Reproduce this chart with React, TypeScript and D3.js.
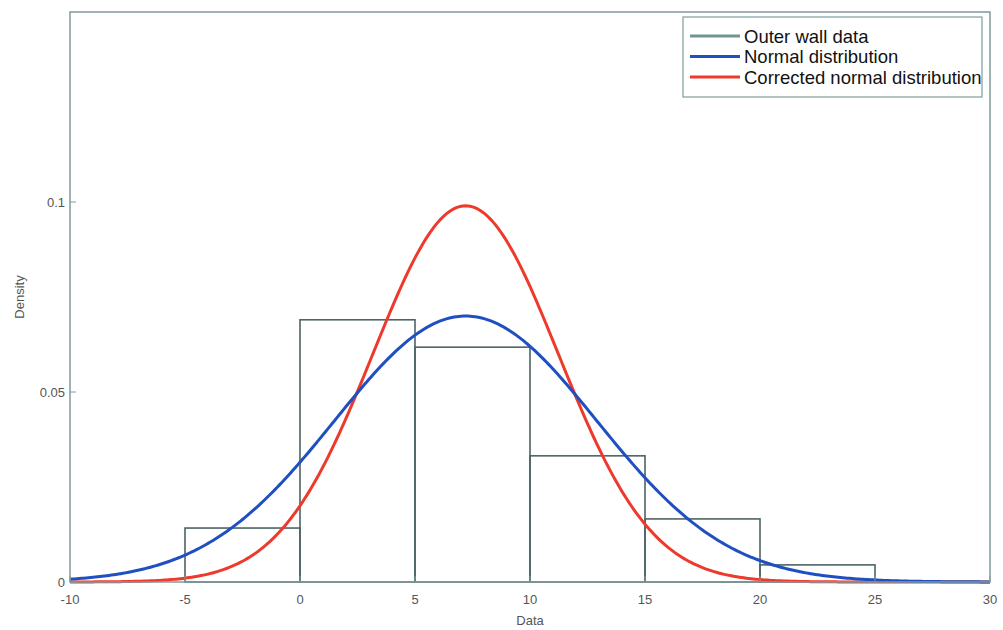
import React from "react";
import * as d3 from "d3";

const binEdges = [-5, 0, 5, 10, 15, 20, 25];
const binDensity = [0.0142, 0.069, 0.0618, 0.0332, 0.0166, 0.0045];
const xTicks = [-10, -5, 0, 5, 10, 15, 20, 25, 30];
const yTicks = [0, 0.05, 0.1];
const yTickLabels = ["0", "0.05", "0.1"];
const seriesNames = ["Outer wall data", "Normal distribution", "Corrected normal distribution"];
const seriesColors = ["#6f9595", "#1f4fc0", "#ee3a2c"];
const fitMean = [7.2, 7.2];
const fitSigma = [5.7, 4.03];

const W = 1003, H = 630;
const M = { left: 70, right: 13, top: 12, bottom: 48 };

export default function App() {
  const x = d3.scaleLinear().domain([-10, 30]).range([M.left, W - M.right]);
  const y = d3.scaleLinear().domain([0, 0.15]).range([H - M.bottom, M.top]);
  const pdf = (m: number, s: number) => (v: number) =>
    Math.exp(-((v - m) ** 2) / (2 * s * s)) / (s * Math.sqrt(2 * Math.PI));
  const xs = d3.range(-10, 30.001, 0.1);
  const line = d3.line<number[]>().x((d) => x(d[0])).y((d) => y(d[1]));
  const curves = [0, 1].map((i) => line(xs.map((v) => [v, pdf(fitMean[i], fitSigma[i])(v)])) as string);
  const axisColor = "#7f9c9c";
  const textColor = "#555";
  return (
    <svg width={W} height={H} style={{ position: "absolute", left: 0, top: 0, background: "#fff" }}
      fontFamily="Liberation Sans, Arial, sans-serif">
      {binDensity.map((d, i) => (
        <rect key={i} x={x(binEdges[i])} y={y(d)} width={x(binEdges[i + 1]) - x(binEdges[i])}
          height={y(0) - y(d)} fill="none" stroke="#4d6464" strokeWidth={1.6} />
      ))}
      <path d={curves[1]} fill="none" stroke={seriesColors[2]} strokeWidth={3} />
      <path d={curves[0]} fill="none" stroke={seriesColors[1]} strokeWidth={3} />
      <rect x={M.left} y={M.top} width={W - M.right - M.left} height={H - M.bottom - M.top}
        fill="none" stroke={axisColor} strokeWidth={1.5} />
      {xTicks.map((t) => (
        <g key={t}>
          <line x1={x(t)} x2={x(t)} y1={y(0)} y2={y(0) - 6} stroke={axisColor} />
          <text x={x(t)} y={y(0) + 22} textAnchor="middle" fontSize={13} fill={textColor}>{t}</text>
        </g>
      ))}
      {yTicks.map((t, i) => (
        <g key={t}>
          <line x1={M.left} x2={M.left + 6} y1={y(t)} y2={y(t)} stroke={axisColor} />
          <text x={M.left - 5} y={y(t) + 5} textAnchor="end" fontSize={13} fill={textColor}>{yTickLabels[i]}</text>
        </g>
      ))}
      <text x={x(10)} y={H - 5} textAnchor="middle" fontSize={13} fill={textColor}>Data</text>
      <text transform={`translate(24, ${y(0.075)}) rotate(-90)`} textAnchor="middle" fontSize={13} fill={textColor}>Density</text>
      <rect x={683} y={17} width={299} height={80} fill="#fff" stroke={axisColor} strokeWidth={1.2} />
      {seriesNames.map((n, i) => (
        <g key={n}>
          <line x1={690} x2={740} y1={36 + i * 20.5} y2={36 + i * 20.5} stroke={seriesColors[i]} strokeWidth={3} />
          <text x={744} y={42.5 + i * 20.5} fontSize={18.5} fill="#111">{n}</text>
        </g>
      ))}
    </svg>
  );
}
